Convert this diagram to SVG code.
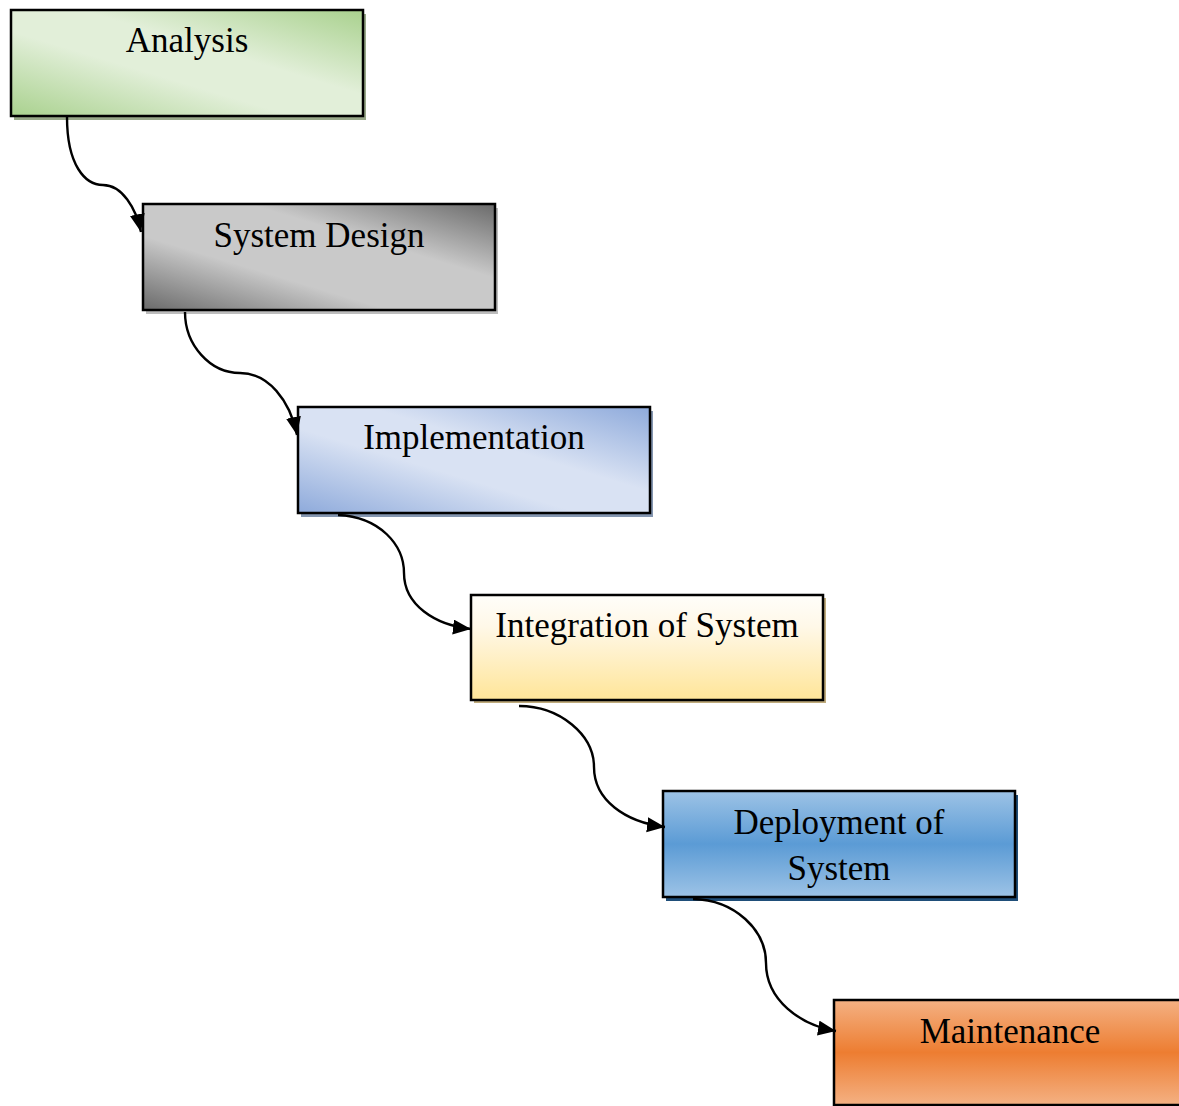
<svg xmlns="http://www.w3.org/2000/svg" width="1179" height="1106" viewBox="0 0 1179 1106">
  <style>
    .box { stroke: #000; stroke-width: 2.5; }
    .label { font-family: "Liberation Serif", "Times New Roman", serif; font-size: 35px; fill: #000; text-anchor: middle; }
    .conn { fill: none; stroke: #000; stroke-width: 2.4; }
  </style>
  <defs>
    <marker id="arrow" markerUnits="userSpaceOnUse" markerWidth="19" markerHeight="16" refX="18" refY="7.5" orient="auto">
      <path d="M0,0 L18,7.5 L0,15 z" fill="#000"/>
    </marker>
    <linearGradient id="gGreen" x1="1" y1="0" x2="0" y2="1">
      <stop offset="0" stop-color="#a9d18e"/>
      <stop offset="0.4" stop-color="#e2efd9"/>
      <stop offset="0.6" stop-color="#e2efd9"/>
      <stop offset="1" stop-color="#a9d18e"/>
    </linearGradient>
    <linearGradient id="gGray" x1="1" y1="0" x2="0" y2="1">
      <stop offset="0" stop-color="#6a6a6a"/>
      <stop offset="0.35" stop-color="#c9c9c9"/>
      <stop offset="0.65" stop-color="#c9c9c9"/>
      <stop offset="1" stop-color="#6a6a6a"/>
    </linearGradient>
    <linearGradient id="gBlueLight" x1="1" y1="0" x2="0" y2="1">
      <stop offset="0" stop-color="#8eaadb"/>
      <stop offset="0.4" stop-color="#d9e2f3"/>
      <stop offset="0.6" stop-color="#d9e2f3"/>
      <stop offset="1" stop-color="#8eaadb"/>
    </linearGradient>
    <linearGradient id="gGold" x1="0" y1="0" x2="0" y2="1">
      <stop offset="0" stop-color="#fffefa"/>
      <stop offset="0.3" stop-color="#fff8e8"/>
      <stop offset="1" stop-color="#ffe598"/>
    </linearGradient>
    <linearGradient id="gBlue" x1="0" y1="0" x2="0" y2="1">
      <stop offset="0" stop-color="#9dc3e6"/>
      <stop offset="0.5" stop-color="#5b9bd5"/>
      <stop offset="1" stop-color="#9dc3e6"/>
    </linearGradient>
    <linearGradient id="gOrange" x1="0" y1="0" x2="0" y2="1">
      <stop offset="0" stop-color="#f4b183"/>
      <stop offset="0.5" stop-color="#ed7d31"/>
      <stop offset="1" stop-color="#f4b183"/>
    </linearGradient>
  </defs>
  <rect width="1179" height="1106" fill="#fff"/>

  <g id="node-analysis">
    <rect x="14" y="14" width="352" height="106" fill="#98a889"/>
    <rect class="box" x="11" y="10" width="352" height="106" fill="url(#gGreen)"/>
    <text class="label" x="187" y="52">Analysis</text>
  </g>

  <g id="node-system-design">
    <rect x="146" y="208" width="352" height="106" fill="#bdbdbd"/>
    <rect class="box" x="143" y="204" width="352" height="106" fill="url(#gGray)"/>
    <text class="label" x="319" y="247">System Design</text>
  </g>

  <g id="node-implementation">
    <rect x="301" y="411" width="352" height="106" fill="#8496b0"/>
    <rect class="box" x="298" y="407" width="352" height="106" fill="url(#gBlueLight)"/>
    <text class="label" x="474" y="449">Implementation</text>
  </g>

  <g id="node-integration">
    <rect x="474" y="598" width="352" height="105" fill="#bfab7c"/>
    <rect class="box" x="471" y="595" width="352" height="105" fill="url(#gGold)"/>
    <text class="label" x="647" y="637">Integration of System</text>
  </g>

  <g id="node-deployment">
    <rect x="666" y="795" width="352" height="106" fill="#1f4e79"/>
    <rect class="box" x="663" y="791" width="352" height="106" fill="url(#gBlue)"/>
    <text class="label" x="839" y="834">Deployment of</text>
    <text class="label" x="839" y="880">System</text>
  </g>

  <g id="node-maintenance">
    <rect class="box" x="834" y="1000" width="352" height="105" fill="url(#gOrange)"/>
    <text class="label" x="1010" y="1043">Maintenance</text>
  </g>

  <g id="connectors">
    <path class="conn" marker-end="url(#arrow)" d="M67,117 C67,165 85,185 103,185 C122,185 136,208 141,232"/>
    <path class="conn" marker-end="url(#arrow)" d="M185,312 C185,345 210,373 240,373 C268,373 290,400 297,435"/>
    <path class="conn" marker-end="url(#arrow)" d="M338,515 C380,517 404,545 404,573 C404,605 435,625 471,629"/>
    <path class="conn" marker-end="url(#arrow)" d="M519,706 C560,706 594,735 594,767 C594,800 625,822 665,827"/>
    <path class="conn" marker-end="url(#arrow)" d="M693,899 C735,900 766,930 766,963 C766,1000 800,1025 836,1031"/>
  </g>
</svg>
